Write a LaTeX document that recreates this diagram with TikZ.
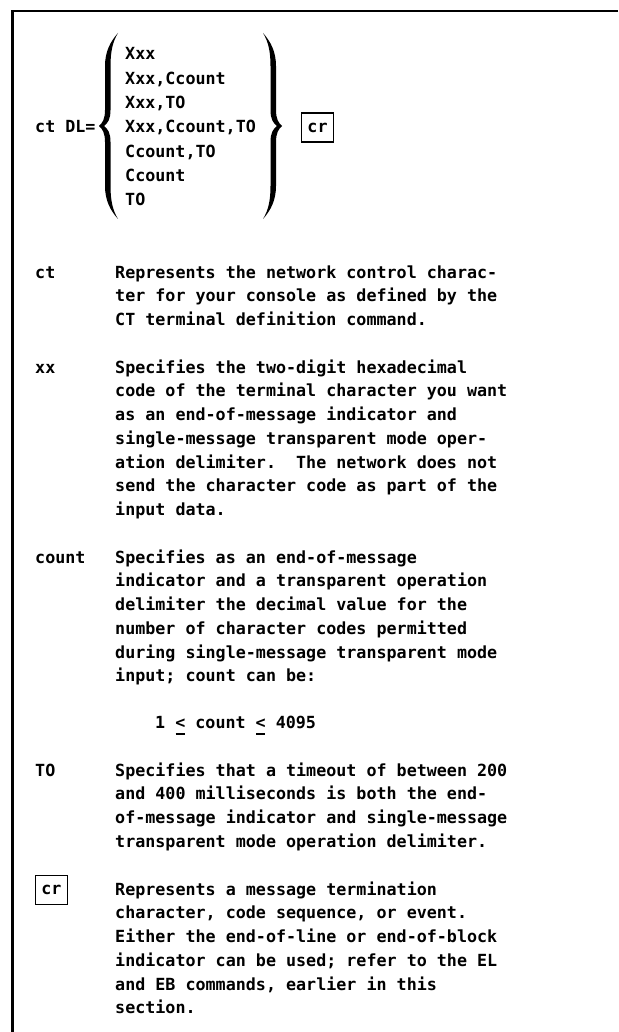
\documentclass[tikz,border=0pt]{standalone}
\usepackage{fontspec}
\newfontfamily\typefont{DejaVu Sans Mono Bold}
% underlined "less than" sign
\newcommand\uless{\rlap{\hspace{0.02em}\raisebox{-0.42em}{\rule{0.56em}{0.13em}}}<}
\tikzset{
  x=1pt, y=-1pt,
  mono/.style={font=\typefont\fontsize{16.7}{23.75}\selectfont,
    execute at begin node={\spaceskip=0.602em\relax\xspaceskip=0.602em\relax}},
  txt/.style={mono, anchor=base west, inner sep=0pt},
  para/.style={txt, text width=500pt, align=left},
  optlist/.style={txt, text width=200pt, align=left,
    font=\typefont\fontsize{16.7}{24.3}\selectfont},
  crbox/.style={mono, draw, line width=1.6pt, inner sep=0pt,
    minimum width=32pt, minimum height=29pt},
  frame/.style={line width=2.2pt},
  bigbrace/.pic={
    \fill (118,33) .. controls (110,42) and (105,52) .. (105,66)
      -- (105,110) .. controls (105,119) and (102.5,123) .. (99,126)
      .. controls (102.5,129) and (105,133) .. (105,142)
      -- (105,186) .. controls (105,200) and (110,210) .. (118,219)
      .. controls (112.5,210) and (110.5,200) .. (110.5,186)
      -- (110.5,142) .. controls (110.5,133) and (108,129) .. (104,126)
      .. controls (108,123) and (110.5,119) .. (110.5,110)
      -- (110.5,66) .. controls (110.5,52) and (112.5,42) .. (118,33) -- cycle;
  }
}
\begin{document}
\begin{tikzpicture}
\fill[white] (0,0) rectangle (618,1032);
\useasboundingbox (0,0) rectangle (618,1032);

% frame along the top and left edges
\coordinate (tl) at (12.5,11);
\coordinate (tr) at (618,11);
\coordinate (bl) at (12.5,1032);
\draw[frame] (tr) -- (tl) -- (bl);

% command syntax
\node[txt] (cmd) at (35,133) {ct DL=};
\pic at (0,0) {bigbrace};
\pic[xscale=-1] at (381,0) {bigbrace};
\node[optlist] (opts) at (125,60) {Xxx\\Xxx,Ccount\\Xxx,TO\\Xxx,Ccount,TO\\Ccount,TO\\Ccount\\TO};
\node[crbox] (crtop) at (317.5,127.5) {cr};

% parameter descriptions
\node[txt] (kct) at (35,278) {ct};
\node[para] (dct) at (115,278) {Represents the network control charac-\\ter for your console as defined by the\\CT terminal definition command.};

\node[txt] (kxx) at (35,373) {xx};
\node[para] (dxx) at (115,373) {Specifies the two-digit hexadecimal\\code of the terminal character you want\\as an end-of-message indicator and\\single-message transparent mode oper-\\ation delimiter.\ \ The network does not\\send the character code as part of the\\input data.};

\node[txt] (kcount) at (35,563) {count};
\node[para] (dcount) at (115,563) {Specifies as an end-of-message\\indicator and a transparent operation\\delimiter the decimal value for the\\number of character codes permitted\\during single-message transparent mode\\input; count can be:};
\node[txt] (range) at (155,728) {1 \uless{} count \uless{} 4095};

\node[txt] (kto) at (35,776) {TO};
\node[para] (dto) at (115,776) {Specifies that a timeout of between 200\\and 400 milliseconds is both the end-\\of-message indicator and single-message\\transparent mode operation delimiter.};

\node[crbox] (kcr) at (51.5,890) {cr};
\node[para] (dcr) at (115,895) {Represents a message termination\\character, code sequence, or event.\\Either the end-of-line or end-of-block\\indicator can be used; refer to the EL\\and EB commands, earlier in this\\section.};
\end{tikzpicture}
\end{document}
